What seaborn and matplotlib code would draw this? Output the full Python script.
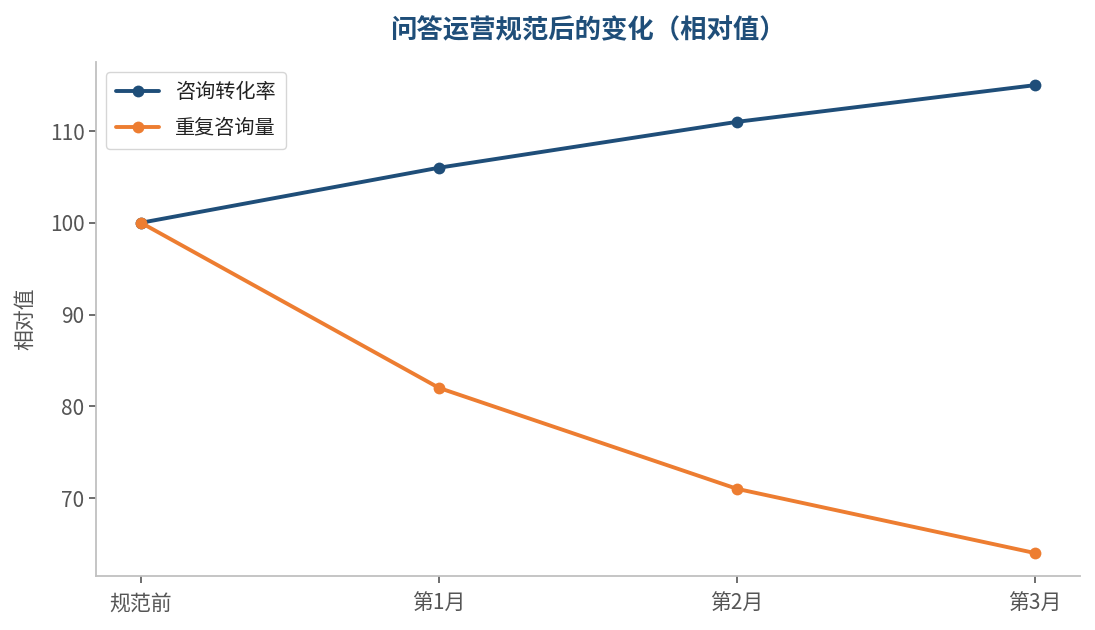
import pandas as pd
import matplotlib
matplotlib.use('Agg')
import matplotlib.pyplot as plt
import seaborn as sns

# Data
periods = ['规范前', '第1月', '第2月', '第3月']
conversion = [100, 106, 111, 115]
repeat_queries = [100, 82, 71, 64]
series_names = ['咨询转化率', '重复咨询量']
colors = ['#1f4e79', '#ed7d31']

df = pd.DataFrame({
    'period': periods * 2,
    'value': conversion + repeat_queries,
    'series': [series_names[0]] * 4 + [series_names[1]] * 4,
})

sns.set_style('white')
plt.rcParams['font.family'] = ['Noto Sans CJK SC', 'DejaVu Sans']

fig, ax = plt.subplots(figsize=(10.95, 6.3), dpi=100)
sns.lineplot(data=df, x='period', y='value', hue='series', palette=colors,
             marker='o', markersize=8.5, markeredgewidth=0, linewidth=2.8,
             sort=False, ax=ax)

ax.set_title('问答运营规范后的变化（相对值）', fontsize=19, fontweight='bold',
             color='#1f4e79', pad=17)
ax.set_xlabel('')
ax.set_ylabel('相对值', fontsize=15, color='#555555', labelpad=10)
ax.set_yticks([70, 80, 90, 100, 110])
ax.tick_params(axis='both', labelsize=15, colors='#555555', length=5,
               width=1.2, left=True, bottom=True)
ax.tick_params(axis='x', pad=7)

sns.despine(ax=ax)
for side in ['left', 'bottom']:
    ax.spines[side].set_color('#c0c0c0')
    ax.spines[side].set_linewidth(1.3)

leg = ax.legend(loc='upper left', fontsize=14.5, frameon=True,
                handlelength=2.1, labelspacing=0.75, borderpad=0.5)
leg.get_frame().set_edgecolor('#cccccc')
for t in leg.get_texts():
    t.set_color('#222222')

plt.subplots_adjust(left=0.088, right=0.986, top=0.902, bottom=0.085)
plt.savefig('out.png', dpi=100)
